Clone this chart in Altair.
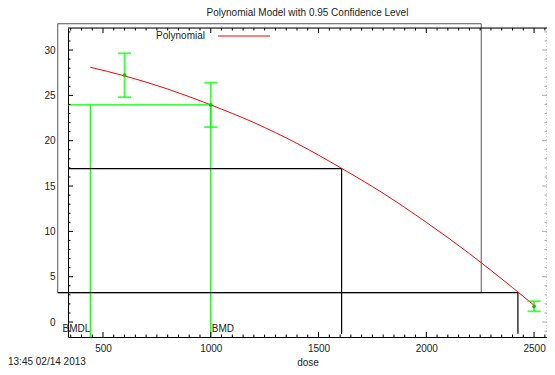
import altair as alt
import pandas as pd

# ---- data ----
title_text = "Polynomial Model with 0.95 Confidence Level"
x_title = "dose"
legend_label = "Polynomial"
timestamp = "13:45 02/14 2013"

obs_dose = [600, 1000, 2500]
obs_mean = [27.24, 23.95, 1.73]
obs_lower = [24.8, 21.5, 1.18]
obs_upper = [29.64, 26.4, 2.3]

curve_dose = [441, 600, 800, 1000, 1200, 1400, 1600, 1800, 2000, 2200, 2400, 2500]
curve_resp = [28.1, 27.15, 25.7, 23.95, 22.0, 19.7, 17.05, 14.2, 11.0, 7.55, 3.8, 1.85]

bmdl = 441
bmd = 1000
bmd_labels = ["BMDL", "BMD"]

black_x1 = [337.6, 1607, 290, 2425]
black_x2 = [1607, 1607, 2425, 2425]
black_y1 = [16.92, 16.92, 3.24, 3.24]
black_y2 = [16.92, -1.3, 3.24, -1.3]

green_x1 = [337.6, 441, 1000]
green_x2 = [1000, 441, 1000]
green_y1 = [23.95, 23.95, 23.95]
green_y2 = [23.95, -1.65, -1.65]

box_x = [290, 2255]
box_y = [3.24, 32.9]

x_domain = [337.6, 2560]
y_domain = [-1.65, 32.43]
x_major = [500, 1000, 1500, 2000, 2500]
x_minor = list(range(350, 2560, 50))
y_major = [0, 5, 10, 15, 20, 25, 30]
y_minor = list(range(-1, 33))

W, H = 479, 309
FONT = "Liberation Sans"
GREEN = "#00ff00"
RED = "#ff0000"
TXT = "#222"

xs = alt.Scale(domain=x_domain, nice=False, zero=False)
ys = alt.Scale(domain=y_domain, nice=False, zero=False)

X_AX = alt.Axis(values=x_major, format="d", ticks=False, grid=False, domainColor="black",
                domainWidth=1, labelFont=FONT, labelFontSize=10, labelColor=TXT,
                labelPadding=6, titleFont=FONT, titleFontSize=10,
                titleFontWeight="normal", titleColor=TXT, titlePadding=4)
Y_AX = alt.Axis(values=y_major, format="d", ticks=False, grid=False, domainColor="black",
                domainWidth=1, labelFont=FONT, labelFontSize=10, labelColor=TXT,
                labelPadding=13)


def X(field):
    return alt.X(field, scale=xs, axis=X_AX, title=x_title)


def Y(field):
    return alt.Y(field, scale=ys, axis=Y_AX, title=None)


obs = pd.DataFrame({"dose": obs_dose, "mean": obs_mean, "lo": obs_lower, "hi": obs_upper})
curve = pd.DataFrame({"dose": curve_dose, "resp": curve_resp})
black = pd.DataFrame({"x1": black_x1, "x2": black_x2, "y1": black_y1, "y2": black_y2})
green = pd.DataFrame({"x1": green_x1, "x2": green_x2, "y1": green_y1, "y2": green_y2})
box = pd.DataFrame({"x1": [box_x[0]], "x2": [box_x[1]], "y1": [box_y[0]], "y2": [box_y[1]]})
xmaj = pd.DataFrame({"t": x_major})
xmin = pd.DataFrame({"t": [t for t in x_minor if t not in x_major]})
ymaj = pd.DataFrame({"t": y_major})
ymin = pd.DataFrame({"t": [t for t in y_minor if t not in y_major]})

base = alt.Chart(curve).mark_line(color=RED, strokeWidth=1, clip=True,
                                  interpolate="monotone").encode(
    x=X("dose:Q"), y=Y("resp:Q"))

gray_box = alt.Chart(box).mark_rect(fill=None, stroke="#555", strokeWidth=1, clip=False).encode(
    x=X("x1:Q"), x2="x2:Q", y=Y("y1:Q"), y2="y2:Q")

black_lines = alt.Chart(black).mark_rule(color="black", strokeWidth=1.2, clip=False).encode(
    x=X("x1:Q"), x2="x2:Q", y=Y("y1:Q"), y2="y2:Q")

green_lines = alt.Chart(green).mark_rule(color=GREEN, strokeWidth=1.2).encode(
    x=X("x1:Q"), x2="x2:Q", y=Y("y1:Q"), y2="y2:Q")

err = alt.Chart(obs).mark_rule(color=GREEN, strokeWidth=1.8, opacity=0.75).encode(
    x=X("dose:Q"), y=Y("lo:Q"), y2="hi:Q")
cap_lo = alt.Chart(obs).mark_tick(color=GREEN, orient="horizontal", size=13, thickness=1.8,
                                  opacity=0.75).encode(x=X("dose:Q"), y=Y("lo:Q"))
cap_hi = alt.Chart(obs).mark_tick(color=GREEN, orient="horizontal", size=13, thickness=1.8,
                                  opacity=0.75).encode(x=X("dose:Q"), y=Y("hi:Q"))
pts = alt.Chart(obs).mark_point(color="#00cc00", filled=True, size=14, opacity=1).encode(
    x=X("dose:Q"), y=Y("mean:Q"))

lab_df = pd.DataFrame({"x": [bmdl, bmd], "y": [-1.1, -1.1], "label": bmd_labels})
lab_bmdl = alt.Chart(lab_df.iloc[[0]]).mark_text(align="right", baseline="alphabetic", font=FONT,
                                                 fontSize=10, color=TXT, clip=False).encode(
    x=X("x:Q"), y=Y("y:Q"), text="label:N")
lab_bmd = alt.Chart(lab_df.iloc[[1]]).mark_text(align="left", baseline="alphabetic", font=FONT,
                                                fontSize=10, color=TXT, dx=1).encode(
    x=X("x:Q"), y=Y("y:Q"), text="label:N")


# ticks (inward, gnuplot style)
def xticks(df, length):
    b = alt.Chart(df).mark_rule(color="black", strokeWidth=1)
    bottom = b.encode(x=X("t:Q"), y=alt.value(H), y2=alt.value(H - length))
    top = b.encode(x=X("t:Q"), y=alt.value(0), y2=alt.value(length))
    return [bottom, top]


def yticks(df, length):
    left = alt.Chart(df).mark_rule(color="black", strokeWidth=1).encode(
        y=Y("t:Q"), x=alt.value(0), x2=alt.value(length))
    right = alt.Chart(df).mark_rule(color="#aaa", strokeWidth=1).encode(
        y=Y("t:Q"), x=alt.value(W), x2=alt.value(W - length))
    return [left, right]


ticks = xticks(xmaj, 5) + xticks(xmin, 2.5) + yticks(ymaj, 5) + yticks(ymin, 2.5)

one = pd.DataFrame({"a": [0]})
top_border = alt.Chart(one).mark_rule(color="black", strokeWidth=1).encode(
    x=alt.value(0), x2=alt.value(W), y=alt.value(0))
right_border = alt.Chart(one).mark_rule(color="#aaa", strokeWidth=1, strokeDash=[1, 2]).encode(
    x=alt.value(W), y=alt.value(0), y2=alt.value(H))

leg_text = alt.Chart(pd.DataFrame({"t": [legend_label]})).mark_text(
    align="right", baseline="middle", font=FONT, fontSize=10, color=TXT).encode(
    x=alt.value(137), y=alt.value(8), text="t:N")
leg_line = alt.Chart(one).mark_rule(color=RED, strokeWidth=1).encode(
    x=alt.value(150), x2=alt.value(202), y=alt.value(8))

stamp = alt.Chart(pd.DataFrame({"t": [timestamp]})).mark_text(
    align="left", baseline="middle", font=FONT, fontSize=10, color=TXT).encode(
    x=alt.value(-60), y=alt.value(H + 25), text="t:N")

chart = alt.layer(
    base, gray_box, green_lines, black_lines, err, cap_lo, cap_hi, pts,
    lab_bmdl, lab_bmd, *ticks, top_border, right_border, leg_text, leg_line, stamp,
).properties(
    width=W, height=H,
    title=alt.TitleParams(title_text, font=FONT, fontSize=10, fontWeight="normal",
                          color=TXT, anchor="middle", offset=5),
    autosize=alt.AutoSizeParams(type="none"),
    padding={"left": 60, "top": 20, "right": 0, "bottom": 30},
).configure_view(stroke=None).configure(background="white")

chart.save("out.html", embed_options={"renderer": "svg", "actions": False})
